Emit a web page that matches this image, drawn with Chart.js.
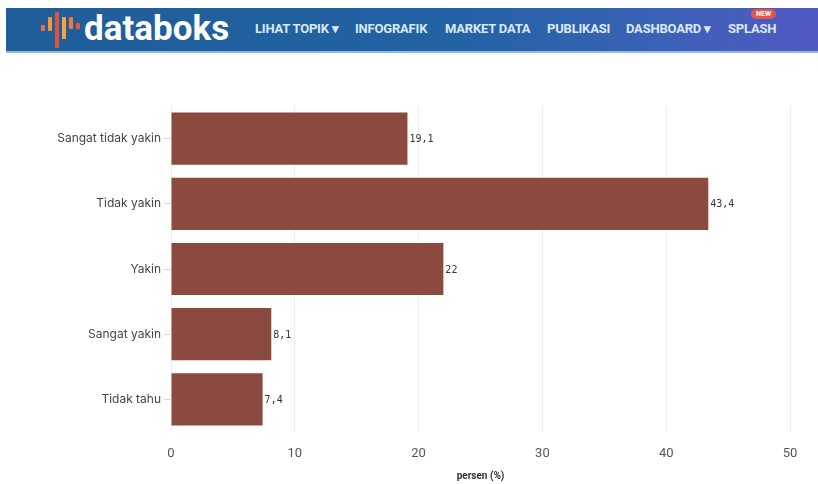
<!DOCTYPE html>
<html>
<head>
<meta charset="utf-8">
<script src="https://cdn.jsdelivr.net/npm/chart.js@4/dist/chart.umd.min.js"></script>
<style>
  body { margin: 0; background: #fff; width: 818px; height: 484px; overflow: hidden; position: relative; font-family: Roboto, sans-serif; }
  #header { position: absolute; left: 6px; top: 8px; width: 812px; height: 43px;
    background: linear-gradient(90deg, #1f5e99 0%, #2362a3 55%, #3a62b6 80%, #5259c2 100%);
    border-bottom: 2px solid #8dbbe6; }
  #logo { position: absolute; left: 78px; top: 0px; color: #fff; font: bold 35px Roboto, sans-serif; letter-spacing: 0px; }
  .nav { position: absolute; top: 13px; color: #dbe9f7; font: bold 13px Roboto, sans-serif; white-space: nowrap; letter-spacing: -0.2px; }
  #newb { position: absolute; left: 745px; top: 1px; background: #e2574c; color: #fff; font: bold 7px Roboto, sans-serif; padding: 1px 5px; border-radius: 6px; }
  .ib { position: absolute; width: 4px; border-radius: 1px; }
  #wrap { position: absolute; left: 0; top: 60px; width: 818px; height: 424px; }
</style>
</head>
<body>
<div id="header">
  <span class="ib" style="left:35px;top:17px;height:6px;background:#ef6a3c"></span>
  <span class="ib" style="left:42px;top:9px;height:14px;background:#f09a3a"></span>
  <span class="ib" style="left:49px;top:4px;height:36px;background:#e5513c"></span>
  <span class="ib" style="left:56px;top:9px;height:22px;background:#f2a53b"></span>
  <span class="ib" style="left:63px;top:9px;height:12px;background:#ef7a3a"></span>
  <span class="ib" style="left:70px;top:15px;height:6px;background:#e9553f"></span>
  <div id="logo">databoks</div>
  <span class="nav" style="left:249px">LIHAT TOPIK &#9662;</span>
  <span class="nav" style="left:349px">INFOGRAFIK</span>
  <span class="nav" style="left:439px">MARKET DATA</span>
  <span class="nav" style="left:541px">PUBLIKASI</span>
  <span class="nav" style="left:620px">DASHBOARD &#9662;</span>
  <span class="nav" style="left:722px">SPLASH</span>
  <span id="newb">NEW</span>
</div>
<div id="wrap"><canvas id="chart" width="818" height="424"></canvas></div>
<script>
var categories = ["Sangat tidak yakin", "Tidak yakin", "Yakin", "Sangat yakin", "Tidak tahu"];
var values = [19.1, 43.4, 22, 8.1, 7.4];
var xTicks = [0, 10, 20, 30, 40, 50];
var axisTitle = "persen (%)";

var valueLabels = {
  id: "valueLabels",
  afterDatasetsDraw: function(chart) {
    var ctx = chart.ctx;
    var meta = chart.getDatasetMeta(0);
    ctx.save();
    ctx.font = "10px 'DejaVu Sans Mono', monospace";
    ctx.fillStyle = "#333";
    ctx.textBaseline = "middle";
    meta.data.forEach(function(bar, i) {
      ctx.fillText(String(values[i]).replace(".", ","), bar.x + 2, bar.y + 1);
    });
    ctx.restore();
  }
};

new Chart(document.getElementById("chart"), {
  type: "bar",
  data: {
    labels: categories,
    datasets: [{
      data: values,
      backgroundColor: "#8b4a3d",
      borderWidth: 0,
      barPercentage: 0.8,
      categoryPercentage: 1
    }]
  },
  options: {
    indexAxis: "y",
    responsive: false,
    animation: false,
    layout: { padding: { top: 46, right: 28, left: 0, bottom: 0 } },
    plugins: { legend: { display: false }, tooltip: { enabled: false } },
    scales: {
      x: {
        min: 0, max: 50,
        afterBuildTicks: function(s) { s.ticks = xTicks.map(function(v) { return { value: v }; }); },
        afterFit: function(s) { s.height = 52; },
        grid: { color: "#ececec", drawTicks: false },
        border: { display: false },
        ticks: { padding: 14, color: "#555", font: { family: "Roboto", size: 13 } },
        title: { display: true, text: axisTitle, color: "#333", font: { family: "Roboto", size: 10, weight: "bold" }, padding: { top: 0, bottom: 2 } }
      },
      y: {
        afterFit: function(s) { s.width = 171; },
        grid: { drawOnChartArea: false, offset: false, tickLength: 7, color: "#d8d8d8" },
        border: { display: false },
        ticks: { padding: 3, color: "#444", font: { family: "Inter", size: 12 } }
      }
    }
  },
  plugins: [valueLabels]
});
</script>
</body>
</html>
